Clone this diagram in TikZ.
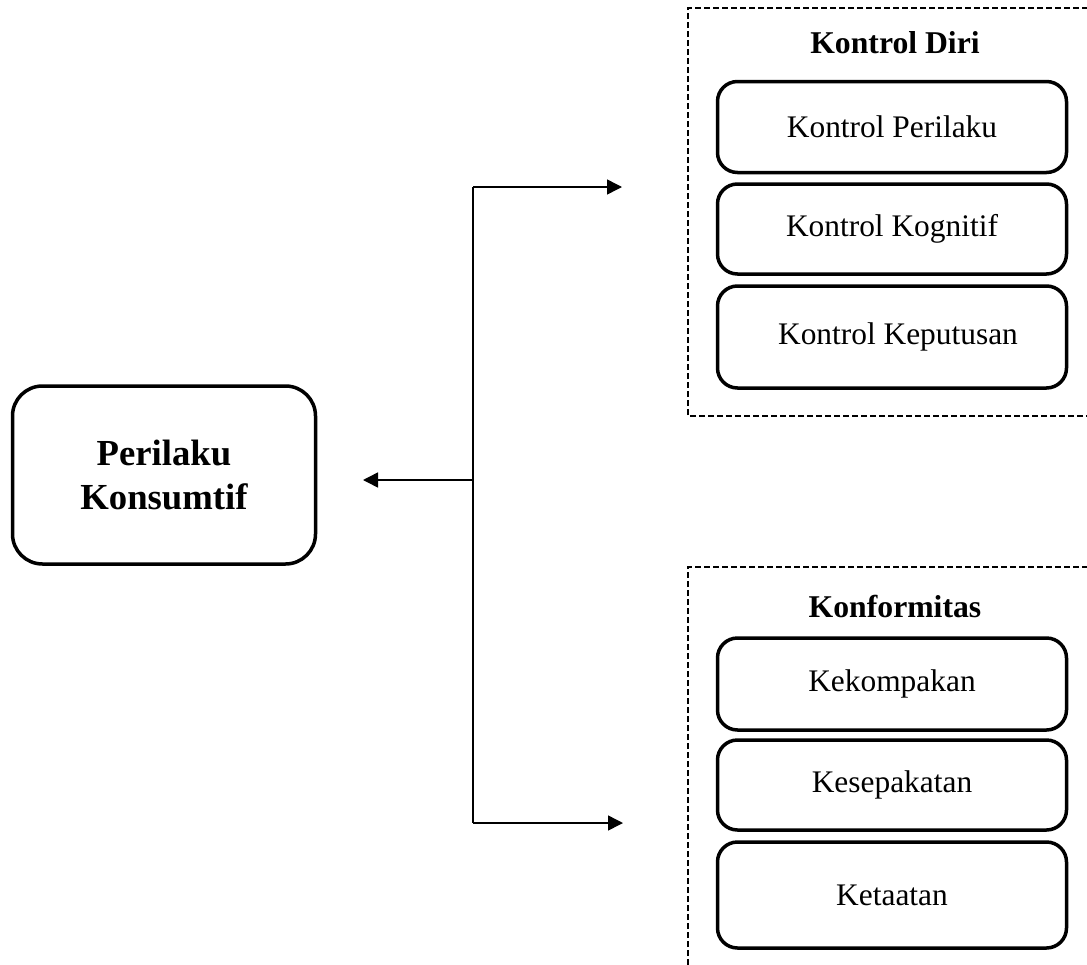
\documentclass[tikz,border=0pt]{standalone}
\usepackage{fontspec}
\setmainfont{Liberation Serif}
\usetikzlibrary{arrows.meta}
\begin{document}
\begin{tikzpicture}[x=1pt,y=-1pt,
  itembox/.style={draw, line width=3.5pt, rounded corners=20pt, minimum width=349pt, inner sep=0pt,
    font=\fontsize{31.4}{38}\selectfont},
  mainbox/.style={draw, line width=3.5pt, rounded corners=30pt, minimum width=303pt, minimum height=178pt,
    align=center, inner sep=0pt, font=\fontsize{36.7}{44}\selectfont\bfseries},
  titletext/.style={font=\fontsize{31.7}{38}\selectfont\bfseries, inner sep=0pt},
  groupline/.style={dashed, dash pattern=on 6pt off 3pt, line width=1.5pt},
  conn/.style={line width=1.5pt},
  arr/.style={line width=1.5pt, -{Triangle[length=15pt,width=15pt]}}]
\useasboundingbox (0,0) rectangle (1087,964);
\begin{scope}
\clip (0,0) rectangle (1087,964);
\draw[groupline] (688,1100) -- (688,567) -- (1200,567);
\draw[groupline] (1200,416) -- (688,416) -- (688,8) -- (1200,8);
\end{scope}

\node[mainbox] (pk) at (164,475) {Perilaku\\Konsumtif};

\node[titletext] (t1) at (895,43) {Kontrol Diri};
\node[itembox, minimum height=91pt] (kp) at (892,127) {Kontrol Perilaku};
\node[itembox, minimum height=90pt] (kk) at (892,229) {Kontrol Kognitif};
\node[itembox, minimum height=102pt] (kkep) at (892,337) {\hspace*{12pt}Kontrol Keputusan};

\node[titletext] (t2) at (895,606) {Konformitas};
\node[itembox, minimum height=92pt] (kom) at (892,684) {Kekompakan};
\node[itembox, minimum height=90pt] (kes) at (892,785) {Kesepakatan};
\node[itembox, minimum height=106pt] (ket) at (892,895) {Ketaatan};

\coordinate (jtop) at (473,187);
\coordinate (jmid) at (473,480);
\coordinate (jbot) at (473,823);
\coordinate (atop) at (622,187);
\coordinate (abot) at (623,823);
\coordinate (aleft) at (363,480);

\draw[conn] (jtop) -- (jbot);
\draw[arr] (jtop) -- (atop);
\draw[arr] (jbot) -- (abot);
\draw[arr] (jmid) -- (aleft);
\end{tikzpicture}
\end{document}
